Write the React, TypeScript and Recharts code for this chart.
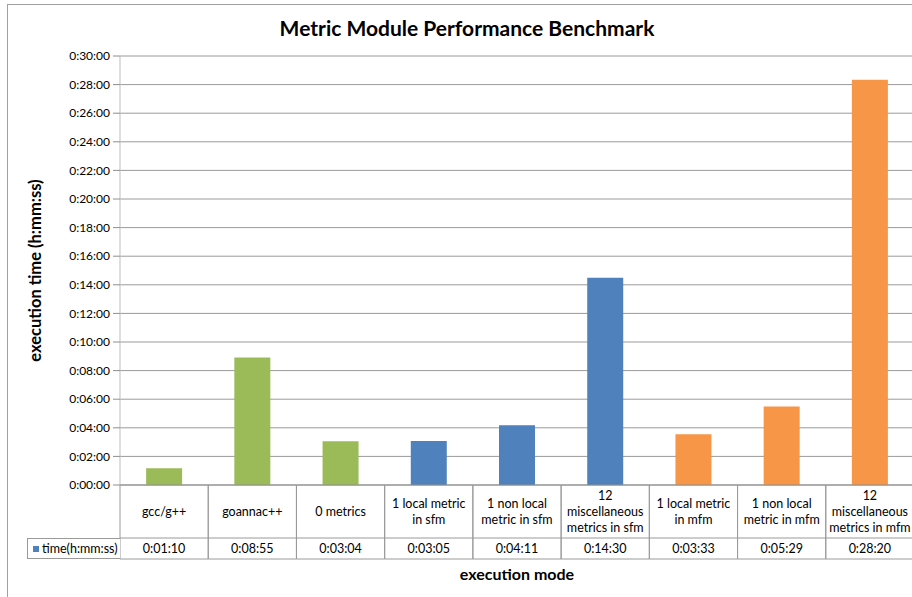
import React from 'react';
import { BarChart, Bar, XAxis, YAxis, CartesianGrid, Cell, Legend, Label } from 'recharts';

const categories = [
  'gcc/g++',
  'goannac++',
  '0 metrics',
  '1 local metric in sfm',
  '1 non local metric in sfm',
  '12 miscellaneous metrics in sfm',
  '1 local metric in mfm',
  '1 non local metric in mfm',
  '12 miscellaneous metrics in mfm',
];
const categoryLines = [
  ['gcc/g++'],
  ['goannac++'],
  ['0 metrics'],
  ['1 local metric', 'in sfm'],
  ['1 non local', 'metric in sfm'],
  ['12', 'miscellaneous', 'metrics in sfm'],
  ['1 local metric', 'in mfm'],
  ['1 non local', 'metric in mfm'],
  ['12', 'miscellaneous', 'metrics in mfm'],
];
const timeLabels = ['0:01:10', '0:08:55', '0:03:04', '0:03:05', '0:04:11', '0:14:30', '0:03:33', '0:05:29', '0:28:20'];
const timeSeconds = [70, 535, 184, 185, 251, 870, 213, 329, 1700];
const groupOf = ['base', 'base', 'base', 'sfm', 'sfm', 'sfm', 'mfm', 'mfm', 'mfm'];
const groupColors: Record<string, string> = { base: '#9BBB59', sfm: '#4F81BD', mfm: '#F79646' };
const yTicks = [0, 120, 240, 360, 480, 600, 720, 840, 960, 1080, 1200, 1320, 1440, 1560, 1680, 1800];

const seriesName = 'time(h:mm:ss)';
const data = categories.map((name, i) => ({ name, time: timeSeconds[i] }));

const FONT = 'Lato, "Open Sans", sans-serif';
const CHART_W = 914;
const CHART_H = 597;
const MARGIN = { top: 56, right: 0, left: 0, bottom: 0 };
const Y_W = 120;
const X_H = 112;
const COL_W = (CHART_W - MARGIN.left - MARGIN.right - Y_W) / categories.length;
const HEAD_H = 53;
const ROW_H = 21;
const LINE = '#9a9a9a';

function fmt(sec: number) {
  const h = Math.floor(sec / 3600);
  const m = Math.floor((sec % 3600) / 60);
  const s = sec % 60;
  return `${h}:${String(m).padStart(2, '0')}:${String(s).padStart(2, '0')}`;
}

const TableTick = (props: any) => {
  const { x, y, index } = props;
  const lines = categoryLines[index] || [];
  const left = x - COL_W / 2;
  const right = x + COL_W / 2;
  const lh = 16;
  const start = y + HEAD_H / 2 - ((lines.length - 1) * lh) / 2;
  return (
    <g>
      <line x1={left} x2={left} y1={y} y2={y + HEAD_H + ROW_H} stroke={LINE} />
      <line x1={right} x2={right} y1={y} y2={y + HEAD_H + ROW_H} stroke={LINE} />
      <line x1={left} x2={right} y1={y + HEAD_H} y2={y + HEAD_H} stroke={LINE} />
      <line x1={left} x2={right} y1={y + HEAD_H + ROW_H} y2={y + HEAD_H + ROW_H} stroke={LINE} />
      {lines.map((t, k) => (
        <text key={k} x={x} y={start + k * lh} textAnchor="middle" dominantBaseline="central" fontSize={12.5} fill="#000" fontFamily={FONT}>
          {t}
        </text>
      ))}
      <text x={x} y={y + HEAD_H + ROW_H / 2} textAnchor="middle" dominantBaseline="central" fontSize={12.5} fill="#000" fontFamily={FONT}>
        {timeLabels[index]}
      </text>
    </g>
  );
};

const LegendCell = () => (
  <div
    style={{
      width: 93,
      height: ROW_H,
      boxSizing: 'border-box',
      border: `1px solid ${LINE}`,
      borderRight: 'none',
      display: 'flex',
      alignItems: 'center',
      paddingLeft: 5,
      fontFamily: FONT,
      fontSize: 12.5,
      color: '#000',
      background: '#fff',
      whiteSpace: 'nowrap',
    }}
  >
    <span style={{ display: 'inline-block', width: 6, height: 6, background: '#4F81BD', marginRight: 3 }} />
    {seriesName}
  </div>
);

export default function App() {
  return (
    <div style={{ position: 'absolute', left: 0, top: 0, width: 912, height: 597, overflow: 'hidden', background: '#fff', fontFamily: FONT }}>
      <div
        style={{
          position: 'absolute',
          left: 7,
          top: 4,
          width: 1000,
          height: 1000,
          borderLeft: '1px solid #a0a0a0',
          borderTop: '1px solid #a0a0a0',
        }}
      />
      <div
        style={{
          position: 'absolute',
          left: 0,
          top: 15,
          width: 934,
          textAlign: 'center',
          fontSize: 21,
          fontWeight: 700,
          fontFamily: FONT,
          color: '#000',
        }}
      >
        Metric Module Performance Benchmark
      </div>
      <div style={{ position: 'absolute', left: 0, top: 0 }}>
        <BarChart width={CHART_W} height={CHART_H} data={data} margin={MARGIN} barCategoryGap="29.6%">
          <CartesianGrid vertical={false} stroke="#9a9a9a" />
          <YAxis
            width={Y_W}
            domain={[0, 1800]}
            ticks={yTicks}
            interval={0}
            tickFormatter={fmt}
            tick={{ fontSize: 12, fill: '#000', fontFamily: FONT }}
            tickLine={{ stroke: '#8e8e8e' }}
            tickSize={7}
            tickMargin={3}
            axisLine={{ stroke: '#bdbdbd' }}
          >
            <Label
              content={(p: any) => {
                const vb = p.viewBox;
                const cx = vb.x + 35;
                const cy = vb.y + vb.height / 2;
                return (
                  <text x={cx} y={cy} transform={`rotate(-90 ${cx} ${cy})`} textAnchor="middle" dominantBaseline="central" fontSize={16.5} fontWeight={700} fontFamily={FONT} fill="#000">
                    execution time (h:mm:ss)
                  </text>
                );
              }}
            />
          </YAxis>
          <XAxis
            dataKey="name"
            height={X_H}
            interval={0}
            tickSize={0}
            tickMargin={0}
            tickLine={false}
            axisLine={{ stroke: '#8e8e8e' }}
            tick={<TableTick />}
          >
            <Label
              content={(p: any) => {
                const vb = p.viewBox;
                const cx = vb.x + vb.width / 2;
                const cy = vb.y + 88;
                return (
                  <text x={cx} y={cy} textAnchor="middle" dominantBaseline="central" fontSize={16} fontWeight={700} fontFamily={FONT} fill="#000">
                    execution mode
                  </text>
                );
              }}
            />
          </XAxis>
          <Legend
            layout="vertical"
            align="center"
            verticalAlign="middle"
            wrapperStyle={{ position: 'absolute', left: 27, top: 485 + HEAD_H, width: 93 }}
            content={() => <LegendCell />}
          />
          <Bar dataKey="time" name={seriesName} isAnimationActive={false}>
            {data.map((d, i) => (
              <Cell key={d.name} fill={groupColors[groupOf[i]]} />
            ))}
          </Bar>
        </BarChart>
      </div>
    </div>
  );
}
